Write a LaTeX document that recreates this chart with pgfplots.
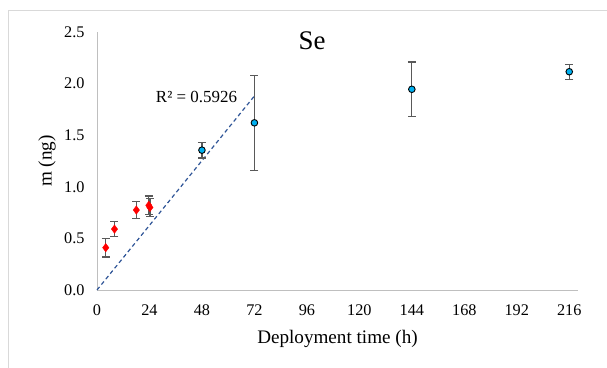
\documentclass[border=0pt]{standalone}
\usepackage{fontspec}
\setmainfont{Liberation Serif}
\usepackage{pgfplots}
\pgfplotsset{compat=1.18}
\definecolor{axgray}{HTML}{BFBFBF}
\definecolor{framegray}{HTML}{D9D9D9}
\definecolor{errgray}{HTML}{595959}
\definecolor{trend}{HTML}{2F5597}
\definecolor{cyanpt}{HTML}{00B0F0}
\begin{document}
\begin{tikzpicture}
\path[use as bounding box] (0bp,0bp) rectangle (607bp,-368bp);
\draw[color=framegray, line width=1.2bp] (8.5bp,-380bp) -- (8.5bp,-10.5bp) -- (620bp,-10.5bp);
\node[font=\fontsize{27}{27}\selectfont] at (312bp,-41bp) {Se};
\begin{axis}[
  at={(97bp,-290bp)}, anchor=south west,
  scale only axis, width=481bp, height=258bp,
  xmin=0, xmax=220, ymin=0, ymax=2.5,
  xtick={0,24,...,216}, ytick={0,0.5,1.0,1.5,2.0,2.5},
  axis lines=left,
  axis line style={-, color=axgray, line width=1bp},
  major tick length=0pt,
  /pgf/number format/assume math mode=true,
  tick label style={font=\fontsize{16.3}{16.3}\selectfont, text=black},
  yticklabel style={/pgf/number format/fixed, /pgf/number format/fixed zerofill, /pgf/number format/precision=1, xshift=-9bp},
  xticklabel style={yshift=-11bp},
  xlabel={Deployment time (h)},
  ylabel={m (ng)},
  label style={font=\fontsize{19.2}{19.2}\selectfont},
  xlabel style={at={(axis description cs:0.5,-0.19)}, anchor=center},
  ylabel style={at={(axis description cs:-0.104,0.5)}, anchor=center},
  clip=false,
]
\addplot[color=trend, line width=1.2bp, dash pattern=on 4bp off 3bp] coordinates {(0,0) (72,1.88)};
\addplot[only marks, mark=diamond*, mark size=4.2bp, color=red, mark options={fill=red, draw=red},
  error bars/.cd, y dir=both, y explicit,
  error bar style={color=errgray, line width=1.2bp},
  error mark options={rotate=90, mark size=4bp, color=errgray, line width=1.2bp}]
  coordinates {
  (4,0.41) +- (0,0.09)
  (8,0.59) +- (0,0.075)
  (18,0.775) +- (0,0.08)
  (23.7,0.82) +- (0,0.09)
  (24.2,0.80) +- (0,0.09)
  };
\addplot[only marks, mark=*, mark size=3.3bp, mark options={fill=cyanpt, draw=black, line width=0.9bp},
  error bars/.cd, y dir=both, y explicit,
  error bar style={color=errgray, line width=1.2bp},
  error mark options={rotate=90, mark size=4bp, color=errgray, line width=1.2bp}]
  coordinates {
  (48,1.355) +- (0,0.075)
  (72,1.62) +- (0,0.46)
  (144,1.945) +- (0,0.265)
  (216,2.115) +- (0,0.072)
  };
\node[font=\fontsize{17}{17}\selectfont] at (axis cs:45.5,1.87) {R² = 0.5926};
\end{axis}
\end{tikzpicture}
\end{document}
